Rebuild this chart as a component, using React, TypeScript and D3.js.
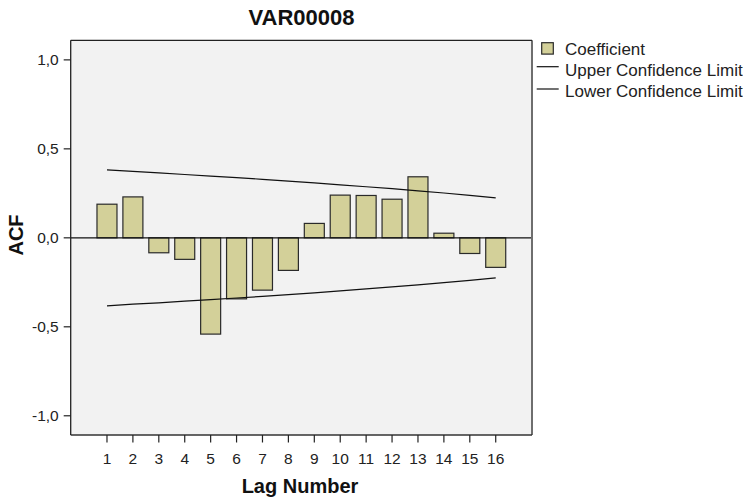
import React from "react";
import * as d3 from "d3";

const lags = [1, 2, 3, 4, 5, 6, 7, 8, 9, 10, 11, 12, 13, 14, 15, 16];
const coefficients = [0.189, 0.23, -0.084, -0.121, -0.541, -0.343, -0.294, -0.183, 0.081, 0.24, 0.238, 0.217, 0.343, 0.026, -0.088, -0.166];
const upperLimit = [0.382, 0.373, 0.365, 0.356, 0.347, 0.338, 0.329, 0.319, 0.309, 0.298, 0.287, 0.276, 0.264, 0.252, 0.239, 0.225];
const lowerLimit = upperLimit.map((v) => -v);
const yTicks = [1.0, 0.5, 0.0, -0.5, -1.0];
const legendLabels = ["Coefficient", "Upper Confidence Limit", "Lower Confidence Limit"];

const W = 743, H = 497;
const left = 70.7, right = 532, top = 40.3, bottom = 435;
const FONT = "Arial, 'Liberation Sans', Helvetica, sans-serif";

export default function App() {
  const x = d3.scaleLinear().domain([-0.4, 17.4]).range([left, right]);
  const y = d3.scaleLinear().domain([-1.108, 1.11]).range([bottom, top]);
  const barW = 20;
  const line = d3.line<number>().x((_, i) => x(lags[i])).y((d) => y(d));
  const fmt = (v: number) => v.toFixed(1).replace(".", ",");
  const legendY = [55, 75.5, 96.5];

  return (
    <svg width={W} height={H} style={{ position: "absolute", left: 0, top: 0, fontFamily: FONT }}>
      <rect x={0} y={0} width={W} height={H} fill="#fff" />
      <text x={301.5} y={25} textAnchor="middle" fontSize={22} fontWeight="bold" fill="#111">VAR00008</text>
      <rect x={left} y={top} width={right - left} height={bottom - top} fill="#f2f2f2" />
      {coefficients.map((v, i) => (
        <rect key={i} x={x(lags[i]) - barW / 2} y={Math.min(y(v), y(0))} width={barW}
          height={Math.abs(y(v) - y(0))} fill="#d3d099" stroke="#2a2a2a" strokeWidth={1.2} />
      ))}
      <line x1={left} x2={right} y1={y(0)} y2={y(0)} stroke="#111" strokeWidth={1.2} />
      <path d={line(upperLimit) || ""} fill="none" stroke="#111" strokeWidth={1.2} />
      <path d={line(lowerLimit) || ""} fill="none" stroke="#111" strokeWidth={1.2} />
      {/* frame */}
      <line x1={right} x2={right} y1={top} y2={bottom} stroke="#6e6e6e" strokeWidth={2} />
      <line x1={left} x2={right} y1={bottom} y2={bottom} stroke="#333" strokeWidth={1.5} />
      <line x1={left} x2={right} y1={top} y2={top} stroke="#222" strokeWidth={1.3} />
      <line x1={left} x2={left} y1={top} y2={bottom} stroke="#222" strokeWidth={1.3} />
      {yTicks.map((t) => (
        <g key={t}>
          <line x1={left - 7} x2={left} y1={y(t)} y2={y(t)} stroke="#222" strokeWidth={1.2} />
          <text x={left - 12} y={y(t) + 5.5} textAnchor="end" fontSize={15.5} fill="#222">{fmt(t)}</text>
        </g>
      ))}
      {lags.map((l) => (
        <g key={l}>
          <line x1={x(l)} x2={x(l)} y1={bottom} y2={bottom + 7.5} stroke="#222" strokeWidth={1.2} />
          <text x={x(l)} y={463.5} textAnchor="middle" fontSize={15.5} fill="#222">{l}</text>
        </g>
      ))}
      <text x={300} y={493} textAnchor="middle" fontSize={20} fontWeight="bold" fill="#111">Lag Number</text>
      <text transform={`translate(23,${235}) rotate(-90)`} textAnchor="middle" fontSize={20} fontWeight="bold" fill="#111">ACF</text>
      {/* legend */}
      <rect x={541.7} y={42.7} width={11.6} height={11.4} fill="#d3d099" stroke="#2a2a2a" strokeWidth={1.2} />
      <line x1={536.7} x2={558.7} y1={66.7} y2={66.7} stroke="#111" strokeWidth={1.2} />
      <line x1={536.7} x2={558.7} y1={89} y2={89} stroke="#111" strokeWidth={1.2} />
      {legendLabels.map((s, i) => (
        <text key={s} x={565} y={legendY[i]} fontSize={17} fill="#222">{s}</text>
      ))}
    </svg>
  );
}
